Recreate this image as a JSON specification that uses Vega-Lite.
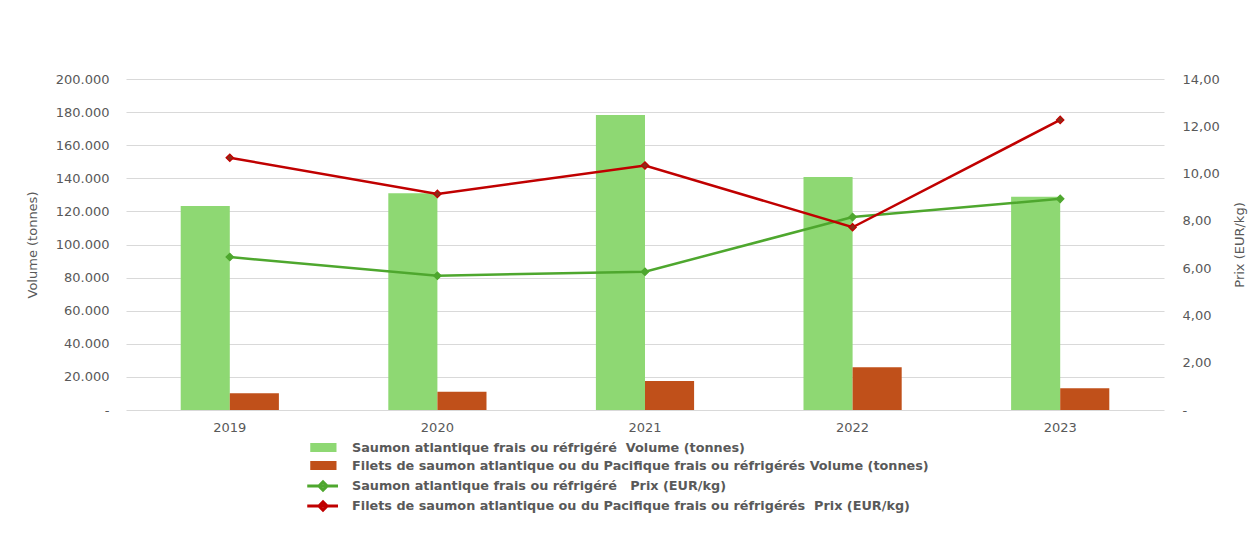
{
  "$schema": "https://vega.github.io/schema/vega-lite/v6.json",
  "width": 1038,
  "height": 331,
  "autosize": {"type": "none"},
  "padding": {"left": 126, "top": 79, "right": 89, "bottom": 140},
  "background": "white",
  "config": {
    "locale": {"number": {"decimal": ",", "thousands": ".", "grouping": [3], "currency": ["", " €"]}},
    "font": "DejaVu Sans",
    "view": {"stroke": null},
    "axis": {"labelColor": "#595959", "titleColor": "#595959", "labelFontSize": 13, "titleFontSize": 13, "titleFontWeight": "normal", "ticks": false, "domain": false},
    "legend": {"title": null, "orient": "none", "direction": "vertical", "padding": 0, "rowPadding": -2, "symbolSize": 225, "labelOffset": 20, "labelLimit": 1000, "labelFontSize": 12.8, "labelFontWeight": "bold", "labelColor": "#595959", "labelFont": "DejaVu Sans", "symbolOpacity": 1}
  },
  "data": {
    "values": [
      {"annee": "2019", "serie": "Saumon atlantique frais ou réfrigéré\u00a0 Volume (tonnes)", "type": "Volume", "valeur": 123300},
      {"annee": "2020", "serie": "Saumon atlantique frais ou réfrigéré\u00a0 Volume (tonnes)", "type": "Volume", "valeur": 130900},
      {"annee": "2021", "serie": "Saumon atlantique frais ou réfrigéré\u00a0 Volume (tonnes)", "type": "Volume", "valeur": 178200},
      {"annee": "2022", "serie": "Saumon atlantique frais ou réfrigéré\u00a0 Volume (tonnes)", "type": "Volume", "valeur": 140800},
      {"annee": "2023", "serie": "Saumon atlantique frais ou réfrigéré\u00a0 Volume (tonnes)", "type": "Volume", "valeur": 128900},
      {"annee": "2019", "serie": "Filets de saumon atlantique ou du Pacifique frais ou réfrigérés Volume (tonnes)", "type": "Volume", "valeur": 10100},
      {"annee": "2020", "serie": "Filets de saumon atlantique ou du Pacifique frais ou réfrigérés Volume (tonnes)", "type": "Volume", "valeur": 11100},
      {"annee": "2021", "serie": "Filets de saumon atlantique ou du Pacifique frais ou réfrigérés Volume (tonnes)", "type": "Volume", "valeur": 17500},
      {"annee": "2022", "serie": "Filets de saumon atlantique ou du Pacifique frais ou réfrigérés Volume (tonnes)", "type": "Volume", "valeur": 25800},
      {"annee": "2023", "serie": "Filets de saumon atlantique ou du Pacifique frais ou réfrigérés Volume (tonnes)", "type": "Volume", "valeur": 13100},
      {"annee": "2019", "serie": "Saumon atlantique frais ou réfrigéré\u00a0\u00a0 Prix (EUR/kg)", "type": "Prix", "valeur": 6.47},
      {"annee": "2020", "serie": "Saumon atlantique frais ou réfrigéré\u00a0\u00a0 Prix (EUR/kg)", "type": "Prix", "valeur": 5.68},
      {"annee": "2021", "serie": "Saumon atlantique frais ou réfrigéré\u00a0\u00a0 Prix (EUR/kg)", "type": "Prix", "valeur": 5.85},
      {"annee": "2022", "serie": "Saumon atlantique frais ou réfrigéré\u00a0\u00a0 Prix (EUR/kg)", "type": "Prix", "valeur": 8.16},
      {"annee": "2023", "serie": "Saumon atlantique frais ou réfrigéré\u00a0\u00a0 Prix (EUR/kg)", "type": "Prix", "valeur": 8.93},
      {"annee": "2019", "serie": "Filets de saumon atlantique ou du Pacifique frais ou réfrigérés\u00a0 Prix (EUR/kg)", "type": "Prix", "valeur": 10.67},
      {"annee": "2020", "serie": "Filets de saumon atlantique ou du Pacifique frais ou réfrigérés\u00a0 Prix (EUR/kg)", "type": "Prix", "valeur": 9.14},
      {"annee": "2021", "serie": "Filets de saumon atlantique ou du Pacifique frais ou réfrigérés\u00a0 Prix (EUR/kg)", "type": "Prix", "valeur": 10.34},
      {"annee": "2022", "serie": "Filets de saumon atlantique ou du Pacifique frais ou réfrigérés\u00a0 Prix (EUR/kg)", "type": "Prix", "valeur": 7.73},
      {"annee": "2023", "serie": "Filets de saumon atlantique ou du Pacifique frais ou réfrigérés\u00a0 Prix (EUR/kg)", "type": "Prix", "valeur": 12.27}
    ]
  },
  "layer": [
    {
      "transform": [{"filter": "datum.type == 'Volume'"}],
      "mark": {"type": "bar", "strokeWidth": 0},
      "encoding": {
        "x": {
          "field": "annee", "type": "nominal", "title": null,
          "scale": {"paddingInner": 0.527, "paddingOuter": 0.2635},
          "axis": {"labelAngle": 0, "labelPadding": 11, "grid": false}
        },
        "xOffset": {"field": "serie", "type": "nominal", "sort": "descending"},
        "y": {
          "field": "valeur", "type": "quantitative", "title": "Volume (tonnes)",
          "scale": {"domain": [0, 200000], "nice": false},
          "axis": {"values": [0, 20000, 40000, 60000, 80000, 100000, 120000, 140000, 160000, 180000, 200000], "format": ",.0f", "labelExpr": "datum.value == 0 ? '-' : datum.label", "labelPadding": 17, "titlePadding": 16, "grid": true, "gridColor": "#d9d9d9", "gridWidth": 1}
        },
        "fill": {
          "field": "serie", "type": "nominal",
          "scale": {
            "domain": ["Saumon atlantique frais ou réfrigéré\u00a0 Volume (tonnes)", "Filets de saumon atlantique ou du Pacifique frais ou réfrigérés Volume (tonnes)"],
            "range": ["#8ED873", "#C0501A"]
          },
          "legend": {"legendX": 188, "legendY": 361, "rowPadding": 3, "labelOffset": 23, "symbolType": "M-1.5,-0.6H2V0.6H-1.5Z", "symbolStrokeWidth": 0}
        }
      }
    },
    {
      "transform": [{"filter": "datum.type == 'Prix'"}],
      "encoding": {
        "x": {"field": "annee", "type": "nominal"},
        "y": {
          "field": "valeur", "type": "quantitative", "title": "Prix (EUR/kg)",
          "scale": {"domain": [0, 14], "nice": false},
          "axis": {"orient": "right", "values": [0, 2, 4, 6, 8, 10, 12, 14], "format": ",.2f", "labelExpr": "datum.value == 0 ? '-' : datum.label", "labelPadding": 18, "titlePadding": 27, "titleAngle": 270, "grid": false}
        }
      },
      "layer": [
        {
          "mark": {"type": "line", "strokeWidth": 2.5},
          "encoding": {
            "color": {
              "field": "serie", "type": "nominal",
              "scale": {
                "domain": ["Saumon atlantique frais ou réfrigéré\u00a0\u00a0 Prix (EUR/kg)", "Filets de saumon atlantique ou du Pacifique frais ou réfrigérés\u00a0 Prix (EUR/kg)"],
                "range": ["#4EA72E", "#C00000"]
              },
              "legend": {"legendX": 188, "legendY": 398, "rowPadding": -3, "symbolType": "M-2.1,0H2M-0.55,0L0,-0.55L0.55,0L0,0.55Z", "symbolStrokeWidth": 3}
            }
          }
        },
        {
          "transform": [{"filter": "indexof(datum.serie, 'Filets') < 0"}],
          "mark": {"type": "point", "shape": "diamond", "size": 55, "filled": true, "fill": "#4EA72E", "stroke": "#4EA72E", "strokeWidth": 1.2, "opacity": 1}
        },
        {
          "transform": [{"filter": "indexof(datum.serie, 'Filets') >= 0"}],
          "mark": {"type": "point", "shape": "diamond", "size": 55, "filled": true, "fill": "#8C2D19", "stroke": "#C00000", "strokeWidth": 1.2, "opacity": 1}
        }
      ]
    }
  ],
  "resolve": {"scale": {"y": "independent"}}
}
